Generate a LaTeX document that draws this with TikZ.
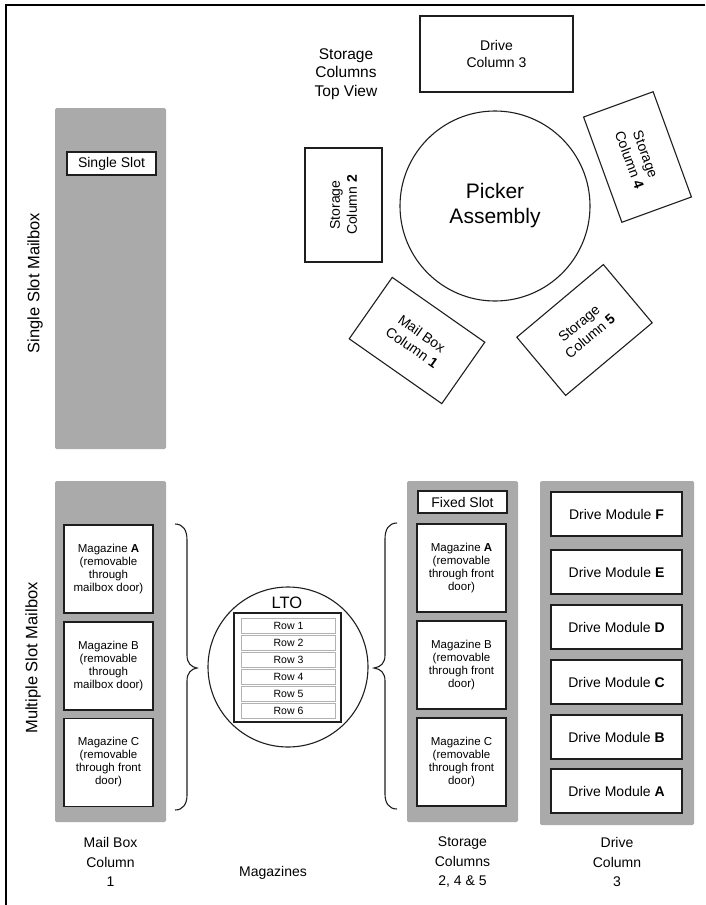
\documentclass[tikz,border=0pt]{standalone}
\usepackage{fontspec}
\setmainfont{Liberation Sans}
\definecolor{colgray}{RGB}{170,170,170}
\definecolor{ink}{RGB}{30,30,30}
\begin{document}
\begin{tikzpicture}[x=1pt,y=-1pt,
  box/.style={draw=ink, line width=1.1pt, fill=white, inner sep=0pt, align=center},
  rowbox/.style={draw=black!30, line width=0.6pt, fill=white, minimum width=94pt, minimum height=15pt, inner sep=0pt, font=\fontsize{10.5}{12}\selectfont},
  gcol/.style={fill=colgray, draw=none, rounded corners=1.5pt, inner sep=0pt},
  lab/.style={align=center, inner sep=0pt, font=\fontsize{14}{19.5}\selectfont},
  side/.style={align=center, inner sep=0pt, font=\fontsize{16.5}{19}\selectfont, rotate=90},
  mag/.style={box, minimum width=89pt, minimum height=88pt, font=\fontsize{11.5}{13}\selectfont},
  drv/.style={box, minimum width=131pt, minimum height=44pt, font=\fontsize{14}{17}\selectfont},
  slot/.style={box, minimum width=89pt, minimum height=23pt, font=\fontsize{14}{17}\selectfont},
  col/.style={box, font=\fontsize{14}{17}\selectfont},
  brace/.style={draw=ink, line width=1.1pt}
]
\useasboundingbox (0,0) rectangle (705,905);
% frame
\draw[line width=1.6pt, black] (705,5) -- (6,5) -- (6,905);

% ---------- top view ----------
\node[lab, font=\fontsize{15.5}{18.5}\selectfont] (topview) at (346,74) {Storage\\Columns\\Top View};
\node[col, minimum width=153pt, minimum height=76pt] (drivecol3) at (496.5,54) {Drive\\Column 3};
\node[draw=ink, line width=1.1pt, circle, minimum size=190pt, inner sep=0pt, align=center,
      font=\fontsize{21}{25}\selectfont] (picker) at (495,206) {Picker\\Assembly};
\node[col, minimum width=114pt, minimum height=77pt, rotate=90] (sc2) at (343.5,205) {Storage\\Column \textbf{2}};
\node[col, minimum width=112pt, minimum height=74pt, rotate=-70] (sc4) at (637.5,157) {Storage\\Column \textbf{4}};
\node[col, minimum width=113pt, minimum height=75pt, rotate=-35] (mb1) at (417,340.5) {Mail Box\\Column \textbf{1}};
\node[col, minimum width=113pt, minimum height=76pt, rotate=40] (sc5) at (584.5,330) {Storage\\Column \textbf{5}};

% ---------- single slot mailbox ----------
\node[side] (ssmlab) at (35,283) {Single Slot Mailbox};
\node[gcol, minimum width=111pt, minimum height=341pt] (ssm) at (110.5,278.5) {};
\node[slot] (single) at (111.5,163.5) {Single Slot};

% ---------- multiple slot mailbox ----------
\node[side] (msmlab) at (33,658) {Multiple Slot Mailbox};
\node[gcol, minimum width=111pt, minimum height=341pt] (msm) at (110.5,651.5) {};
\node[mag] (lmA) at (108.5,569) {Magazine \textbf{A}\\(removable\\through\\mailbox door)};
\node[mag] (lmB) at (108.5,666) {Magazine B\\(removable\\through\\mailbox door)};
\node[mag] (lmC) at (108.5,762.5) {Magazine C\\(removable\\through front\\door)};

% ---------- storage column ----------
\node[gcol, minimum width=111pt, minimum height=341pt] (stor) at (462.5,651.5) {};
\node[slot, minimum height=22pt] (fixed) at (462.5,502) {Fixed Slot};
\node[mag] (rmA) at (461.5,568) {Magazine \textbf{A}\\(removable\\through front\\door)};
\node[mag] (rmB) at (461.5,665) {Magazine B\\(removable\\through front\\door)};
\node[mag] (rmC) at (461.5,762) {Magazine C\\(removable\\through front\\door)};

% ---------- drive column ----------
\node[gcol, minimum width=154pt, minimum height=344pt] (drv) at (617,653) {};
\node[drv] (dF) at (616.5,514) {Drive Module \textbf{F}};
\node[drv] (dE) at (616.5,572) {Drive Module \textbf{E}};
\node[drv] (dD) at (616.5,627) {Drive Module \textbf{D}};
\node[drv] (dC) at (616.5,682) {Drive Module \textbf{C}};
\node[drv] (dB) at (616.5,737) {Drive Module \textbf{B}};
\node[drv] (dA) at (616.5,791) {Drive Module \textbf{A}};

% ---------- braces ----------
\draw[brace] (175,524) .. controls (183,524) and (187,530) .. (187,540) -- (187,655)
  .. controls (187,663) and (191,667) .. (197,668) .. controls (191,669) and (187,673) .. (187,681)
  -- (187,795) .. controls (187,804) and (183,810) .. (175,810);
\draw[brace] (397,523) .. controls (389,523) and (385,529) .. (385,539) -- (385,655)
  .. controls (385,663) and (381,667) .. (374,668) .. controls (381,669) and (385,673) .. (385,681)
  -- (385,794) .. controls (385,803) and (389,809) .. (397,809);

% ---------- LTO ----------
\node[draw=ink, line width=1.1pt, circle, minimum size=160pt, inner sep=0pt] (lto) at (288,667) {};
\node[inner sep=0pt, font=\fontsize{16.5}{18}\selectfont] (ltolab) at (287,603) {LTO};
\node[draw=ink, line width=1.2pt, minimum width=107pt, minimum height=109pt, inner sep=0pt] (rows) at (287.5,667.5) {};
\foreach \i/\yy in {1/626,2/643,3/660,4/677,5/694,6/711}{
  \node[rowbox] (row\i) at (288.5,\yy) {Row \i};
}

% ---------- bottom labels ----------
\node[lab] (lbl1) at (110.5,862) {Mail Box\\Column\\1};
\node[lab] (lblm) at (273,873) {Magazines};
\node[lab] (lbl2) at (462.5,862) {Storage\\Columns\\2, 4 \& 5};
\node[lab] (lbl3) at (617,862) {Drive\\Column\\3};
\end{tikzpicture}
\end{document}
